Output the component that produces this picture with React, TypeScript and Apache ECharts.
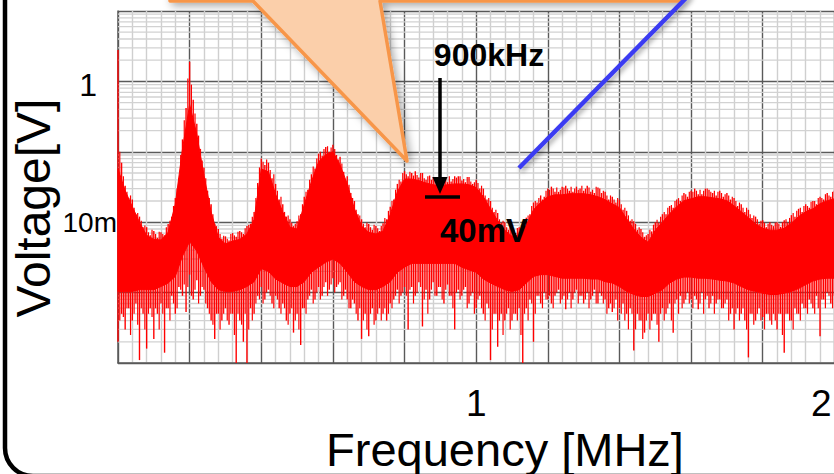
import React, { useEffect, useRef } from 'react';
import * as echarts from 'echarts';

const FONT = 'Arial, "Liberation Sans", Helvetica, sans-serif';

// ---- axis labels ----
const X_LABEL_VALUES = [1, 2];
const X_LABEL_TEXTS = ['1', '2'];
const Y_LABEL_VALUES = [1, 0.01];
const Y_LABEL_TEXTS = ['1', '10m'];

// ---- spectrum: dense core band (volts), sampled every 0.02 MHz from 0 MHz ----
const BAND_STEP_MHZ = 0.02;
const BAND_TOP = [
  0.0574, 0.028, 0.0166, 0.01, 0.0065, 0.0057, 0.0056, 0.0072, 0.018, 0.109,
  0.47, 0.177, 0.046, 0.014, 0.0061, 0.0049, 0.0054, 0.0057, 0.0068, 0.0109,
  0.057, 0.052, 0.025, 0.014, 0.0085, 0.008, 0.0177, 0.0375, 0.072, 0.091,
  0.1, 0.065, 0.035, 0.0155, 0.0088, 0.0072, 0.0068, 0.0075, 0.0128, 0.027,
  0.041, 0.041, 0.039, 0.036, 0.034, 0.033, 0.034, 0.035, 0.035, 0.034,
  0.031, 0.023, 0.0155, 0.0105, 0.0077, 0.0063, 0.0065, 0.0091, 0.015, 0.019,
  0.023, 0.0245, 0.0245, 0.0254, 0.0254, 0.0254, 0.0245, 0.023, 0.0208, 0.0183,
  0.0161, 0.0112, 0.008, 0.0061, 0.0052, 0.0077, 0.01, 0.0132, 0.0166, 0.0202,
  0.0215, 0.023, 0.023, 0.0222, 0.0215, 0.0202, 0.0171, 0.0141, 0.0116, 0.0094,
  0.0082, 0.0077, 0.0077, 0.0082, 0.0097, 0.012, 0.0141, 0.0155, 0.0183, 0.0202,
  0.0215,
];
const BAND_BOTTOM = [
  0.00104, 0.00104, 0.00104, 0.0011, 0.0011, 0.0011, 0.00122, 0.00137, 0.0017, 0.0033,
  0.0053, 0.0039, 0.0023, 0.00143, 0.0011, 0.00104, 0.00104, 0.0011, 0.00122, 0.00143,
  0.0022, 0.002, 0.00156, 0.00137, 0.00122, 0.00122, 0.00143, 0.00195, 0.0023, 0.0027,
  0.003, 0.0026, 0.00195, 0.00143, 0.00122, 0.0011, 0.0011, 0.00122, 0.00143, 0.00195,
  0.0023, 0.0026, 0.0026, 0.0026, 0.0026, 0.0026, 0.0026, 0.0026, 0.0023, 0.0021,
  0.00195, 0.00156, 0.00137, 0.00122, 0.0011, 0.00104, 0.0011, 0.00137, 0.0017, 0.0018,
  0.0018, 0.0017, 0.0016, 0.0016, 0.0016, 0.0016, 0.00156, 0.00156, 0.00143, 0.00137,
  0.00122, 0.00104, 0.00094, 0.00088, 0.00088, 0.00098, 0.0011, 0.00137, 0.00156, 0.00166,
  0.00166, 0.0016, 0.0016, 0.00156, 0.0015, 0.00146, 0.00137, 0.00122, 0.0011, 0.00104,
  0.00098, 0.00094, 0.00094, 0.00098, 0.00104, 0.00114, 0.0013, 0.00146, 0.00156, 0.0016,
  0.0016,
];

// ---- spectrum: noise spikes (volts), sampled every 0.01 MHz from 0 MHz ----
const SPIKE_STEP_MHZ = 0.01;
const SPIKE_HI = [
  2.8, 0.07, 0.033, 0.022, 0.021, 0.013, 0.012, 0.0085, 0.0085, 0.0065,
  0.0075, 0.006, 0.0072, 0.0065, 0.0094, 0.012, 0.022, 0.042, 0.15, 0.42,
  1.9, 0.55, 0.25, 0.11, 0.06, 0.028, 0.018, 0.0095, 0.008, 0.0058,
  0.0063, 0.0055, 0.007, 0.0062, 0.0075, 0.0068, 0.0088, 0.0095, 0.014, 0.036,
  0.08, 0.065, 0.07, 0.042, 0.035, 0.021, 0.018, 0.012, 0.011, 0.0088,
  0.0103, 0.013, 0.023, 0.029, 0.048, 0.058, 0.094, 0.088, 0.117, 0.1,
  0.126, 0.09, 0.085, 0.052, 0.045, 0.026, 0.02, 0.013, 0.011, 0.0085,
  0.0094, 0.0078, 0.0088, 0.0075, 0.0097, 0.011, 0.0166, 0.021, 0.035, 0.038,
  0.053, 0.045, 0.05, 0.053, 0.043, 0.05, 0.04, 0.046, 0.044, 0.036,
  0.042, 0.044, 0.037, 0.038, 0.045, 0.045, 0.039, 0.037, 0.044, 0.035,
  0.04, 0.03, 0.03, 0.021, 0.02, 0.014, 0.0135, 0.0098, 0.01, 0.0078,
  0.0082, 0.007, 0.0085, 0.0085, 0.0116, 0.013, 0.019, 0.019, 0.024, 0.023,
  0.03, 0.032, 0.027, 0.027, 0.032, 0.033, 0.028, 0.027, 0.032, 0.03,
  0.028, 0.033, 0.027, 0.026, 0.031, 0.026, 0.027, 0.021, 0.023, 0.019,
  0.021, 0.015, 0.0145, 0.0105, 0.0103, 0.0078, 0.008, 0.0062, 0.0068, 0.0074,
  0.01, 0.0098, 0.013, 0.013, 0.017, 0.016, 0.021, 0.02, 0.026, 0.023,
  0.028, 0.03, 0.025, 0.025, 0.03, 0.029, 0.026, 0.024, 0.028, 0.023,
  0.026, 0.021, 0.022, 0.017, 0.018, 0.014, 0.015, 0.0115, 0.012, 0.0095,
  0.0107, 0.0085, 0.01, 0.0088, 0.01, 0.0086, 0.0107, 0.0098, 0.0126, 0.012,
  0.0155, 0.014, 0.018, 0.016, 0.02, 0.018, 0.023, 0.021, 0.026, 0.023,
  0.028,
];
const SPIKE_LO = [
  0.0002, 0.0005, 0.0003, 0.0006, 0.0004, 0.0007, 0.00011, 0.0005, 0.00016, 0.0006,
  0.00022, 0.0005, 0.0007, 0.00014, 0.0006, 0.0009, 0.0005, 0.0012, 0.0009, 0.00053,
  0.0018, 0.0008, 0.0015, 0.0009, 0.0011, 0.0006, 0.0004, 0.00022, 0.0005, 0.0004,
  0.0006, 0.00035, 0.0005, 0.0001, 0.0004, 0.0002, 0.0001, 0.0006, 0.0005, 0.0009,
  0.0012, 0.0008, 0.0011, 0.0007, 0.0009, 0.0006, 0.0007, 0.0004, 0.0005, 0.00027,
  0.0005, 0.00018, 0.0006, 0.0008, 0.0011, 0.0008, 0.0012, 0.0009, 0.0014, 0.0011,
  0.0016, 0.0012, 0.0014, 0.0009, 0.0008, 0.0006, 0.0007, 0.0004, 0.00022, 0.0005,
  0.00024, 0.0006, 0.0004, 0.0006, 0.0005, 0.0004, 0.0007, 0.0008, 0.0011, 0.0009,
  0.0012, 0.0003, 0.0012, 0.0009, 0.0014, 0.00033, 0.0011, 0.0008, 0.0014, 0.0009,
  0.0012, 0.0007, 0.0013, 0.0009, 0.0003, 0.0011, 0.0009, 0.0012, 0.0007, 0.001,
  0.0006, 0.0009, 0.0005, 0.0007, 0.00011, 0.0005, 0.00017, 0.0005, 0.0004, 0.0006,
  0.0004, 0.0005, 0.0006, 0.0001, 0.0006, 0.0008, 0.0002, 0.0009, 0.0007, 0.001,
  0.0008, 0.0007, 0.0009, 0.0011, 0.0008, 0.00058, 0.001, 0.0008, 0.0011, 0.0009,
  0.0007, 0.001, 0.0008, 0.0011, 0.0007, 0.0009, 0.0008, 0.0006, 0.00053, 0.0008,
  0.0006, 0.0007, 0.0005, 0.0006, 0.00015, 0.0005, 0.0004, 0.00027, 0.0005, 0.0004,
  0.0005, 0.0002, 0.0006, 0.0005, 0.0007, 0.00027, 0.0008, 0.0009, 0.0007, 0.001,
  0.0008, 0.0009, 0.00058, 0.001, 0.0008, 0.0006, 0.0009, 0.0007, 0.0008, 0.0006,
  0.0008, 0.0005, 0.0003, 0.0006, 0.0005, 0.0004, 0.00012, 0.0005, 0.0004, 0.0006,
  0.00045, 0.0005, 0.0004, 0.0005, 0.0003, 0.0005, 0.00014, 0.0005, 0.0004, 0.0006,
  0.0005, 0.0007, 0.0006, 0.0008, 0.0006, 0.0009, 0.00024, 0.0008, 0.001, 0.0007,
  0.0009,
];

// ---- in-between noise spikes (volts), sampled every 0.01 MHz from 0.005 MHz ----
const MID_START_MHZ = 0.005;
const MID_HI = [
  0.1, 0.045, 0.027, 0.024, 0.016, 0.0135, 0.0105, 0.009, 0.0072, 0.0078,
  0.0068, 0.0073, 0.0068, 0.0085, 0.0105, 0.017, 0.03, 0.09, 0.28, 1.1,
  0.9, 0.35, 0.17, 0.075, 0.042, 0.022, 0.013, 0.0088, 0.0068, 0.0064,
  0.0058, 0.0068, 0.0065, 0.0073, 0.0072, 0.0082, 0.0092, 0.012, 0.022, 0.06,
  0.072, 0.078, 0.055, 0.048, 0.028, 0.023, 0.014, 0.0125, 0.0098, 0.0095,
  0.0125, 0.018, 0.027, 0.04, 0.062, 0.08, 0.1, 0.11, 0.12, 0.115,
  0.11, 0.078, 0.068, 0.04, 0.034, 0.022, 0.015, 0.0125, 0.0095, 0.0098,
  0.0085, 0.0092, 0.0082, 0.0088, 0.0115, 0.0145, 0.02, 0.029, 0.04, 0.05,
  0.048, 0.052, 0.046, 0.047, 0.05, 0.042, 0.045, 0.04, 0.043, 0.04,
  0.04, 0.042, 0.045, 0.041, 0.043, 0.045, 0.041, 0.044, 0.038, 0.037,
  0.036, 0.033, 0.024, 0.022, 0.016, 0.015, 0.011, 0.0105, 0.0085, 0.0088,
  0.0078, 0.0083, 0.0078, 0.0095, 0.0125, 0.017, 0.02, 0.022, 0.021, 0.028,
  0.029, 0.03, 0.031, 0.029, 0.031, 0.03, 0.032, 0.03, 0.029, 0.033,
  0.03, 0.031, 0.029, 0.032, 0.03, 0.028, 0.024, 0.024, 0.021, 0.022,
  0.018, 0.016, 0.0125, 0.011, 0.0095, 0.0085, 0.0072, 0.0065, 0.0078, 0.0092,
  0.0108, 0.012, 0.014, 0.016, 0.0175, 0.02, 0.022, 0.024, 0.025, 0.027,
  0.027, 0.028, 0.029, 0.028, 0.03, 0.027, 0.028, 0.027, 0.026, 0.025,
  0.024, 0.023, 0.02, 0.019, 0.016, 0.016, 0.013, 0.0125, 0.011, 0.0105,
  0.0098, 0.0095, 0.0092, 0.0098, 0.0095, 0.01, 0.011, 0.0115, 0.0135, 0.0145,
  0.016, 0.017, 0.017, 0.0195, 0.02, 0.022, 0.022, 0.025, 0.024, 0.027,
];
const MID_LO = [
  0.0004, 0.00045, 0.0006, 0.00025, 0.0005, 0.00035, 0.0006, 0.0003, 0.0005, 0.00045,
  0.0006, 0.0003, 0.0005, 0.0006, 0.0004, 0.0007, 0.0006, 0.0011, 0.0013, 0.0012,
  0.0009, 0.0011, 0.0007, 0.0012, 0.0007, 0.0005, 0.00035, 0.0005, 0.0003, 0.0005,
  0.0004, 0.0005, 0.00025, 0.0005, 0.00035, 0.0005, 0.0003, 0.0004, 0.0007, 0.0008,
  0.0007, 0.001, 0.0009, 0.0006, 0.0008, 0.0005, 0.0006, 0.00035, 0.0006, 0.0004,
  0.0003, 0.0006, 0.0005, 0.0009, 0.0007, 0.001, 0.0008, 0.0012, 0.0009, 0.0013,
  0.001, 0.0013, 0.0008, 0.0011, 0.0006, 0.0008, 0.0005, 0.0006, 0.0004, 0.0003,
  0.0005, 0.00035, 0.0005, 0.0004, 0.0006, 0.0005, 0.0006, 0.0009, 0.0007, 0.001,
  0.0009, 0.0011, 0.0007, 0.001, 0.0012, 0.0008, 0.0005, 0.0011, 0.0009, 0.0012,
  0.0008, 0.0011, 0.0009, 0.0006, 0.001, 0.0008, 0.0011, 0.0006, 0.0009, 0.0005,
  0.0008, 0.0006, 0.0004, 0.0006, 0.0003, 0.0005, 0.0004, 0.00025, 0.0005, 0.0003,
  0.0005, 0.0004, 0.00025, 0.0005, 0.0004, 0.0007, 0.0005, 0.0009, 0.0006, 0.0008,
  0.0009, 0.0006, 0.001, 0.0007, 0.0009, 0.0008, 0.0006, 0.001, 0.0007, 0.0009,
  0.0008, 0.0006, 0.0009, 0.0007, 0.001, 0.0007, 0.0005, 0.0007, 0.0006, 0.0004,
  0.0005, 0.0004, 0.0003, 0.0005, 0.0003, 0.0004, 0.00022, 0.0004, 0.0003, 0.0005,
  0.00035, 0.0005, 0.0004, 0.0006, 0.0004, 0.0007, 0.0005, 0.0006, 0.0008, 0.0007,
  0.0006, 0.0008, 0.0007, 0.0005, 0.0009, 0.0007, 0.0005, 0.0008, 0.0006, 0.0007,
  0.0004, 0.0006, 0.0005, 0.0004, 0.0006, 0.0003, 0.0005, 0.00035, 0.0005, 0.0004,
  0.0003, 0.0005, 0.00035, 0.0004, 0.0005, 0.00025, 0.0005, 0.0004, 0.0003, 0.0005,
  0.0004, 0.0006, 0.0005, 0.0007, 0.0005, 0.0006, 0.0008, 0.0006, 0.0009, 0.0006,
];

// ---- log-grid minor lines (decade mantissas) ----
const DECADES = [0.0001, 0.001, 0.01, 0.1, 1];
const MANTISSAS = [2, 3, 4, 5, 6, 7, 8, 9];

function pickLabel(v: number, values: number[], texts: string[], tol: number) {
  for (let i = 0; i < values.length; i++) {
    if (Math.abs(v - values[i]) < tol * Math.max(1e-12, values[i])) return texts[i];
  }
  return '';
}

function spikeRenderer(width: number) {
  return (_params: any, api: any) => {
    const f = api.value(0);
    const p1 = api.coord([f, api.value(1)]);
    const p2 = api.coord([f, api.value(2)]);
    return {
      type: 'line',
      shape: { x1: p1[0], y1: p1[1], x2: p2[0], y2: p2[1] },
      style: { stroke: '#ff0000', lineWidth: width },
    };
  };
}

export default function App() {
  const ref = useRef<HTMLDivElement>(null);

  useEffect(() => {
    if (!ref.current) return;
    const chart = echarts.init(ref.current, undefined, { renderer: 'svg' });

    const minorValues: number[] = [];
    DECADES.forEach((d) => MANTISSAS.forEach((m) => minorValues.push(d * m)));

    const option: any = {
      animation: false,
      backgroundColor: '#ffffff',
      grid: { left: 118, top: 11, width: 788, height: 352, containLabel: false },
      xAxis: {
        type: 'value',
        min: 0,
        max: 2.2,
        interval: 0.2,
        axisLine: { show: true, lineStyle: { color: '#5a5a5a', width: 1.5 } },
        axisTick: { show: false },
        splitLine: { show: true, lineStyle: { color: '#5a5a5a', width: 1.4 } },
        minorTick: { show: false, splitNumber: 5 },
        minorSplitLine: { show: true, lineStyle: { color: '#cfcfcf', width: 1.4 } },
        axisLabel: {
          formatter: (v: number) => {
            const t = pickLabel(v, X_LABEL_VALUES, X_LABEL_TEXTS, 1e-6);
            if (!t) return '';
            return t === '2' ? '{two|' + t + '}' : '{one|' + t + '}';
          },
          color: '#000',
          fontFamily: FONT,
          margin: 22,
          rich: {
            one: { fontSize: 37, color: '#000', fontFamily: FONT },
            two: { fontSize: 37, color: '#000', fontFamily: FONT, padding: [0, 26, 0, 0] },
          },
        },
      },
      yAxis: {
        type: 'log',
        logBase: 10,
        min: 0.0001,
        max: 10,
        splitNumber: 5,
        axisLine: { show: true, lineStyle: { color: '#5a5a5a', width: 1.5 } },
        axisTick: { show: false },
        splitLine: { show: true, lineStyle: { color: '#5a5a5a', width: 1.4 } },
        axisLabel: {
          margin: 1,
          color: '#000',
          fontFamily: FONT,
          formatter: (v: number) => {
            const t = pickLabel(v, Y_LABEL_VALUES, Y_LABEL_TEXTS, 1e-6);
            if (!t) return '';
            return t === '1' ? '{big|' + t + '}' : '{small|' + t + '}';
          },
          rich: {
            big: { fontSize: 32, color: '#000', fontFamily: FONT, padding: [8, 20, 0, 0] },
            small: { fontSize: 28, color: '#000', fontFamily: FONT },
          },
        },
      },
      series: [
        {
          type: 'custom',
          name: 'minorGrid',
          z: 1,
          silent: true,
          data: [[1, 0.01]],
          renderItem: (params: any, api: any) => {
            const cs = params.coordSys;
            return {
              type: 'group',
              children: minorValues.map((v) => {
                const y = api.coord([0, v])[1];
                return {
                  type: 'line',
                  shape: { x1: cs.x, y1: y, x2: cs.x + cs.width, y2: y },
                  style: { stroke: '#d2d2d2', lineWidth: 1.3 },
                };
              }),
            };
          },
        },
        {
          type: 'custom',
          name: 'band',
          z: 3,
          silent: true,
          data: [[1, 0.01]],
          renderItem: (_params: any, api: any) => {
            const top = BAND_TOP.map((v, i) => api.coord([i * BAND_STEP_MHZ, v]));
            const bot = BAND_BOTTOM.map((v, i) => api.coord([i * BAND_STEP_MHZ, v])).reverse();
            return {
              type: 'polygon',
              shape: { points: top.concat(bot) },
              style: { fill: '#ff0000', stroke: '#ff0000', lineWidth: 1 },
            };
          },
        },
        {
          type: 'custom',
          name: 'spikes',
          z: 4,
          silent: true,
          encode: { x: 0, y: [1, 2] },
          data: SPIKE_HI.map((h, i) => [i * SPIKE_STEP_MHZ, h, SPIKE_LO[i]]),
          renderItem: spikeRenderer(1.4),
        },
        {
          type: 'custom',
          name: 'spikesMid',
          z: 4,
          silent: true,
          encode: { x: 0, y: [1, 2] },
          data: MID_HI.map((h, i) => [MID_START_MHZ + i * SPIKE_STEP_MHZ, h, MID_LO[i]]),
          renderItem: spikeRenderer(1.2),
        },
      ],
      graphic: [
        {
          type: 'rect',
          z: 100,
          silent: true,
          shape: { x: 5, y: -60, width: 1000, height: 536, r: 28 },
          style: { fill: 'transparent', stroke: '#000', lineWidth: 4.5 },
        },
        {
          type: 'polygon',
          z: 101,
          silent: true,
          shape: {
            points: [
              [170, -60], [680, -60], [680, 1], [380, 1], [407, 161], [253, 1], [170, 1],
            ],
          },
          style: {
            fill: '#FBCFAA',
            stroke: '#F7964A',
            lineWidth: 3.5,
            lineJoin: 'round',
            shadowBlur: 8,
            shadowOffsetX: 3,
            shadowOffsetY: 3,
            shadowColor: 'rgba(0,0,0,0.35)',
          },
        },
        {
          type: 'line',
          z: 101,
          silent: true,
          shape: { x1: 519, y1: 168, x2: 690, y2: -6 },
          style: {
            stroke: '#3A3AF2',
            lineWidth: 4.5,
            shadowBlur: 5,
            shadowOffsetX: 2,
            shadowOffsetY: 3,
            shadowColor: 'rgba(0,0,0,0.35)',
          },
        },
        {
          type: 'line',
          z: 102,
          silent: true,
          shape: { x1: 440, y1: 78, x2: 440, y2: 182 },
          style: { stroke: '#000', lineWidth: 3.5 },
        },
        {
          type: 'polygon',
          z: 102,
          silent: true,
          shape: { points: [[432.5, 177], [447.5, 177], [440, 194]] },
          style: { fill: '#000' },
        },
        {
          type: 'line',
          z: 102,
          silent: true,
          shape: { x1: 425, y1: 197, x2: 460, y2: 197 },
          style: { stroke: '#000', lineWidth: 3.5 },
        },
        {
          type: 'text',
          z: 103,
          silent: true,
          x: 489,
          y: 55,
          style: {
            text: '900kHz',
            fontSize: 32,
            fontWeight: 'bold',
            fontFamily: FONT,
            fill: '#000',
            align: 'center',
            verticalAlign: 'middle',
          },
        },
        {
          type: 'text',
          z: 103,
          silent: true,
          x: 484,
          y: 230,
          style: {
            text: '40mV',
            fontSize: 33,
            fontWeight: 'bold',
            fontFamily: FONT,
            fill: '#000',
            align: 'center',
            verticalAlign: 'middle',
          },
        },
        {
          type: 'text',
          z: 103,
          silent: true,
          x: 33,
          y: 208,
          rotation: Math.PI / 2,
          style: {
            text: 'Voltage[V]',
            fontSize: 48,
            fontFamily: FONT,
            fill: '#000',
            align: 'center',
            verticalAlign: 'middle',
          },
        },
        {
          type: 'text',
          z: 103,
          silent: true,
          x: 505,
          y: 449,
          style: {
            text: 'Frequency [MHz]',
            fontSize: 47,
            fontFamily: FONT,
            fill: '#000',
            align: 'center',
            verticalAlign: 'middle',
          },
        },
      ],
    };

    chart.setOption(option);
    return () => chart.dispose();
  }, []);

  return (
    <div
      style={{
        position: 'fixed',
        left: 0,
        top: 0,
        width: 834,
        height: 474,
        overflow: 'hidden',
        background: '#fff',
      }}
    >
      <div ref={ref} style={{ width: 920, height: 474 }} />
    </div>
  );
}
